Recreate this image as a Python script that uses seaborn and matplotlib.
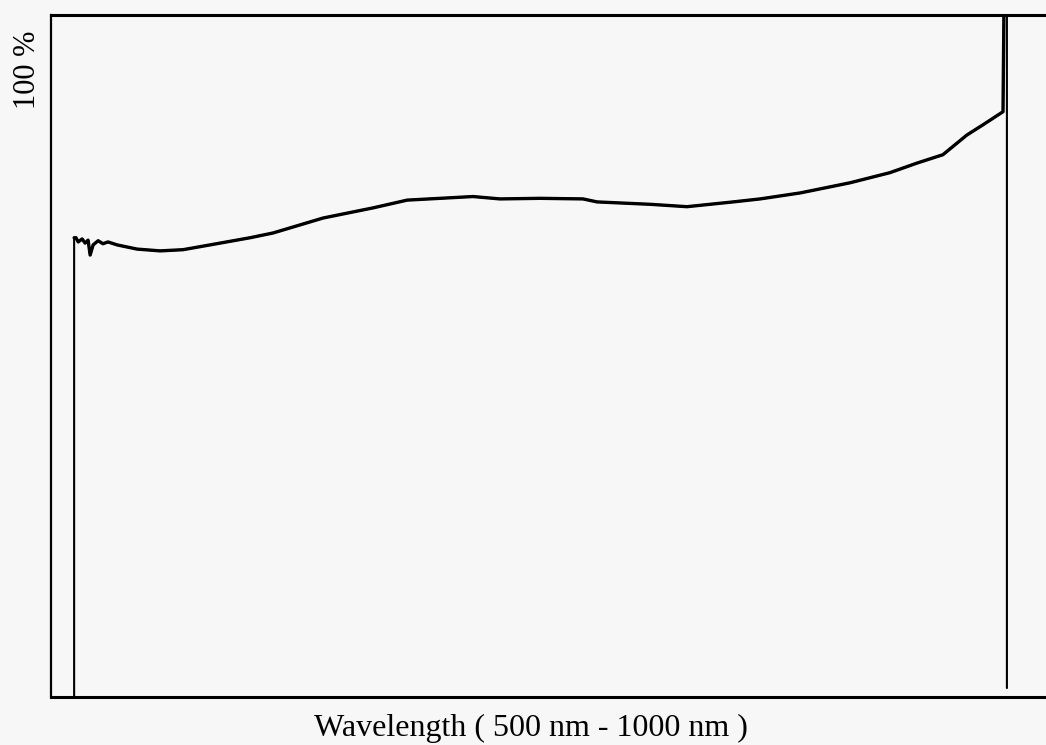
import pandas as pd
import matplotlib
matplotlib.use("Agg")
import matplotlib.pyplot as plt
import seaborn as sns

# transmission spectrum (wavelength in nm, value in %)
wavelength = [500, 500, 501, 502.2, 504.3, 505.9, 507.5, 508.6, 510.2, 512.9,
              515.5, 518.2, 523.1, 533.8, 546.2, 558.5, 573.0, 594.5, 606.9,
              633.7, 660.6, 678.9, 696.6, 714.3, 728.8, 750.3, 773.4, 780.9,
              809.4, 829.2, 854.0, 868.5, 890.0, 916.8, 938.3, 952.8, 966.7,
              979.6, 988.2, 999.0, 999.5, 1001.1, 1001.1]
transmission = [0, 76.9, 76.9, 76.2, 76.7, 76.0, 76.5, 74.0, 75.7, 76.4,
                75.9, 76.2, 75.7, 75.0, 74.7, 74.9, 75.7, 76.9, 77.7,
                80.2, 81.9, 83.2, 83.5, 83.8, 83.4, 83.5, 83.4, 82.9,
                82.5, 82.1, 82.9, 83.4, 84.4, 86.1, 87.8, 89.4, 90.8,
                94.1, 95.8, 98.0, 114.7, 114.7, 1.5]

df = pd.DataFrame({"wavelength": wavelength, "transmission": transmission})

sns.set_theme(style="white")
plt.rcParams["font.family"] = ["Liberation Serif", "DejaVu Serif"]

bg = "#f7f7f7"
fig = plt.figure(figsize=(10.46, 7.45), dpi=100, facecolor=bg)
ax = fig.add_axes([0.0488, 0.0644, 0.9512, 0.9155])
ax.set_facecolor(bg)

# thin vertical edges, then the measured curve drawn heavier on top
sns.lineplot(data=df, x="wavelength", y="transmission", sort=False,
             color="black", linewidth=1.5, estimator=None, ax=ax)
sns.lineplot(data=df.iloc[1:-2], x="wavelength", y="transmission", sort=False,
             color="black", linewidth=2.4, estimator=None, ax=ax)

ax.set_xlim(487.6, 1022.1)
ax.set_ylim(0, 114.2)
ax.set_xticks([])
ax.set_yticks([])

for side in ["top", "bottom"]:
    ax.spines[side].set_linewidth(2.2)
    ax.spines[side].set_color("black")
ax.spines["left"].set_linewidth(1.6)
ax.spines["left"].set_color("black")
ax.spines["right"].set_visible(False)

ax.set_xlabel("Wavelength ( 500 nm - 1000 nm )", fontsize=23, color="black")
ax.xaxis.set_label_coords(0.482, -0.025)
ax.set_ylabel("100 %", fontsize=22, color="black")
ax.yaxis.set_label_coords(-0.009, 0.919)

fig.savefig("out.png", dpi=100, facecolor=bg)
